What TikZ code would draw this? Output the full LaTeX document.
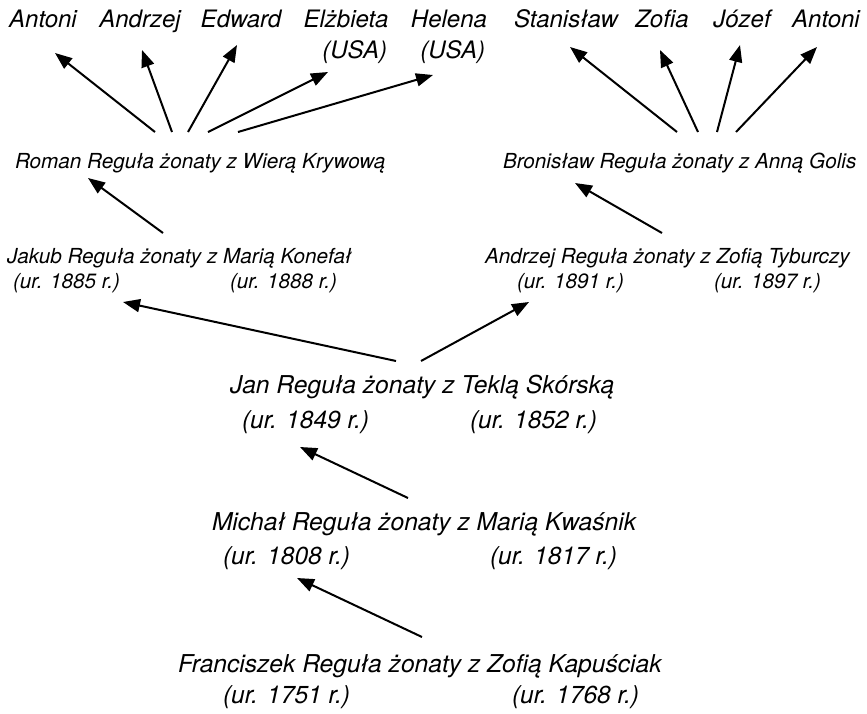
\documentclass[tikz,border=0pt]{standalone}
\usepackage{fontspec}
\setmainfont{TeX Gyre Heros}
\usetikzlibrary{arrows.meta}
\begin{document}
\begin{tikzpicture}[x=1pt,y=-1pt,
  txt/.style={anchor=base west,inner sep=0pt,outer sep=0pt},
  kid/.style={txt,anchor=base,font=\fontsize{24}{28}\selectfont\itshape},
  kidr/.style={kid,anchor=base east},
  mid/.style={txt,font=\fontsize{20.7}{24}\selectfont\itshape},
  big/.style={txt,font=\fontsize{24.6}{29}\selectfont\itshape},
  arr/.style={line width=2pt,-{Triangle[length=17pt,width=13pt]}}]
\useasboundingbox (0,0) rectangle (867,713);

% children of Roman and Bronisław
\node[kid] (k1) at (43,27) {Antoni};
\node[kid] (k2) at (140,27) {Andrzej};
\node[kid] (k3) at (241,27) {Edward};
\node[kid] (k4) at (346,27) {Elżbieta};
\node[kid] (k5) at (449,27) {Helena};
\node[kidr] (k4u) at (387,58) {(USA)};
\node[kidr] (k5u) at (485,58) {(USA)};
\node[kid] (k6) at (566,27) {Stanisław};
\node[kid] (k7) at (662,27) {Zofia};
\node[kid] (k8) at (742,27) {Józef};
\node[kid] (k9) at (826,27) {Antoni};

% third generation
\node[mid] (roman) at (15,168) {Roman Reguła żonaty z Wierą Krywową};
\node[mid] (bron) at (503,168) {Bronisław Reguła żonaty z Anną Golis};

% second generation
\node[mid] (jakub) at (7,263) {Jakub Reguła żonaty z Marią Konefał};
\node[mid] (jakubA) at (13,288) {(ur. 1885 r.)};
\node[mid] (jakubB) at (230,288) {(ur. 1888 r.)};
\node[mid] (andrz) at (485,263) {Andrzej Reguła żonaty z Zofią Tyburczy};
\node[mid] (andrzA) at (517,288) {(ur. 1891 r.)};
\node[mid] (andrzB) at (714,288) {(ur. 1897 r.)};

% older generations
\node[big] (jan) at (230,393) {Jan Reguła żonaty z Teklą Skórską};
\node[big] (janA) at (242,428) {(ur. 1849 r.)};
\node[big] (janB) at (470,428) {(ur. 1852 r.)};
\node[big] (mich) at (212,530) {Michał Reguła żonaty z Marią Kwaśnik};
\node[big] (michA) at (223,564) {(ur. 1808 r.)};
\node[big] (michB) at (490,564) {(ur. 1817 r.)};
\node[big] (fran) at (178,672) {Franciszek Reguła żonaty z Zofią Kapuściak};
\node[big] (franA) at (223,703) {(ur. 1751 r.)};
\node[big] (franB) at (512,703) {(ur. 1768 r.)};

% arrow ends
\coordinate (r1) at (155,132); \coordinate (r1h) at (55,53);
\coordinate (r2) at (172,132); \coordinate (r2h) at (142,50);
\coordinate (r3) at (188,132); \coordinate (r3h) at (237,45);
\coordinate (r4) at (208,132); \coordinate (r4h) at (328,72);
\coordinate (r5) at (238,132); \coordinate (r5h) at (433,75);
\coordinate (b1) at (677,132); \coordinate (b1h) at (570,47);
\coordinate (b2) at (698,132); \coordinate (b2h) at (660,50);
\coordinate (b3) at (717,132); \coordinate (b3h) at (740,45);
\coordinate (b4) at (736,132); \coordinate (b4h) at (817,47);
\coordinate (jr) at (163,233); \coordinate (jrh) at (88,178);
\coordinate (ab) at (662,233); \coordinate (abh) at (575,183);
\coordinate (jj) at (396,361); \coordinate (jjh) at (123,302);
\coordinate (ja) at (421,361); \coordinate (jah) at (529,302);
\coordinate (mj) at (408,498); \coordinate (mjh) at (300,447);
\coordinate (fm) at (422,637); \coordinate (fmh) at (297,578);

\foreach \a/\b in {r1/r1h,r2/r2h,r3/r3h,r4/r4h,r5/r5h,b1/b1h,b2/b2h,b3/b3h,b4/b4h,jr/jrh,ab/abh,jj/jjh,ja/jah,mj/mjh,fm/fmh}
  \draw[arr] (\a) -- (\b);
\end{tikzpicture}
\end{document}
